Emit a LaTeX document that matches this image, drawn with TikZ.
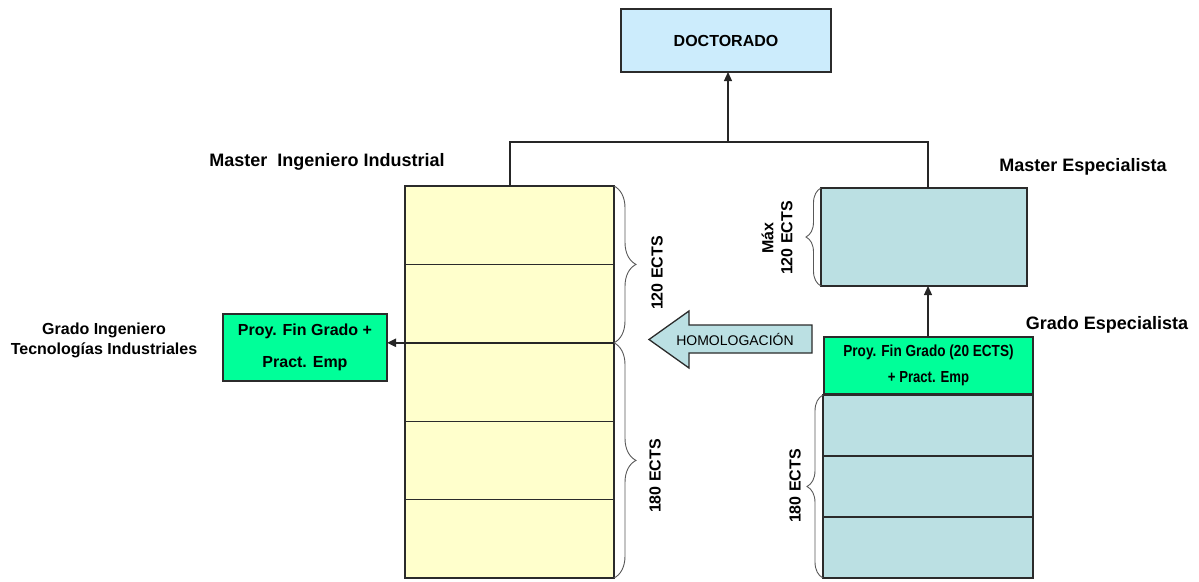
\documentclass[tikz,border=0pt]{standalone}
\usepackage{fontspec}
\setmainfont{Liberation Sans}
\usetikzlibrary{arrows.meta,decorations.pathreplacing,calc}

\definecolor{docblue}{HTML}{CCECFC}
\definecolor{paleyellow}{HTML}{FFFFCC}
\definecolor{paleteal}{HTML}{BBE0E3}
\definecolor{brightgreen}{HTML}{00FF99}
\definecolor{edge}{HTML}{2B2B2B}

\tikzset{
  box/.style={draw=edge, line width=1.3pt, inner sep=0pt, outer sep=0pt,
    font=\fontsize{16}{19}\selectfont\bfseries, align=center},
  ycell/.style={box, fill=paleyellow, minimum width=209pt, minimum height=78.4pt},
  tcell/.style={box, fill=paleteal, minimum width=210pt, minimum height=61pt},
  heading/.style={font=\fontsize{18}{20}\selectfont\bfseries, inner sep=0pt},
  caption/.style={font=\fontsize{16}{20}\selectfont\bfseries, inner sep=0pt, align=center},
  ects/.style={caption, rotate=90},
  link/.style={draw=black!85, line width=1.2pt},
  arr/.style={link, -{Triangle[width=8pt,length=9pt]}},
  bracket/.style={draw=black!65, line width=0.9pt, decorate,
    decoration={brace, amplitude=#1}},
}

\begin{document}
\begin{tikzpicture}[x=1pt,y=-1pt]
\useasboundingbox (0,0) rectangle (1199,581);

% doctorate
\node[box, fill=docblue, minimum width=210pt, minimum height=63pt] (doc) at (726,40.5) {DOCTORADO};

% industrial engineering column (grado + master)
\node[ycell] (c1) at (509.5,225.2) {};
\node[ycell] (c2) at (509.5,303.6) {};
\node[ycell] (c3) at (509.5,382.0) {};
\node[ycell] (c4) at (509.5,460.4) {};
\node[ycell] (c5) at (509.5,538.8) {};
\node[heading] (mii) at (327,162) {Master\ \ Ingeniero Industrial};

\draw[bracket=22pt] (c1.north east) -- (c2.south east);
\draw[bracket=22pt] (c3.north east) -- (c5.south east);
\node[ects] (e120) at (657,273) {120 ECTS};
\node[ects] (e180) at (655,476) {180 ECTS};

% final project of the industrial degree
\node[box, fill=brightgreen, minimum width=164pt, minimum height=67pt,
  font=\fontsize{16}{32}\selectfont\bfseries] (pfg1) at (305,347.5) {Proy. Fin Grado +\\Pract. Emp};
\node[caption] (gii) at (104,340) {Grado Ingeniero\\Tecnologías Industriales};
\draw[arr, line width=2pt] (c2.south east) -- (c2.south east -| pfg1.east);

% specialist master
\node[box, fill=paleteal, minimum width=206pt, minimum height=98pt] (mesp) at (924,237) {};
\node[heading] (mel) at (1083,167) {Master Especialista};
\draw[bracket=15pt] (mesp.south west) -- (mesp.north west);
\node[ects, font=\fontsize{16}{19}\selectfont\bfseries] (emax) at (777,238) {Máx\\120 ECTS};

% specialist degree
\node[box, fill=brightgreen, minimum width=209pt, minimum height=57pt,
  font=\fontsize{16}{26}\selectfont\bfseries] (pfg2) at (928.5,365.5)
  {\scalebox{0.85}[1]{Proy. Fin Grado (20 ECTS)}\\\scalebox{0.82}[1]{+ Pract. Emp}};
\node[heading] (gel) at (1107,325) {Grado Especialista};
\node[tcell] (t1) at (928,425.5) {};
\node[tcell] (t2) at (928,486.5) {};
\node[tcell] (t3) at (928,547.5) {};
\draw[bracket=16pt] (t3.south west) -- (t1.north west);
\node[ects] (e180b) at (795,486) {180 ECTS};

% equivalence arrow
\fill[paleteal, draw=edge, line width=1.3pt]
  (812,325) -- (689,325) -- (689,311) -- (649,339.5) -- (689,368) -- (689,353) -- (812,353) -- cycle;
\node[font=\fontsize{14}{16}\selectfont, inner sep=0pt] (homo) at (735,339) {HOMOLOGACIÓN};

% connectors
\coordinate (hub) at (728,142);
\coordinate (lft) at (510,142);
\coordinate (rgt) at (928,142);
\draw[link] (c1.north -| lft) -- (lft) -- (rgt) -- (mesp.north -| rgt);
\draw[arr] (hub) -- (doc.south -| hub);
\draw[arr] (pfg2.north -| rgt) -- (mesp.south -| rgt);
\end{tikzpicture}
\end{document}
